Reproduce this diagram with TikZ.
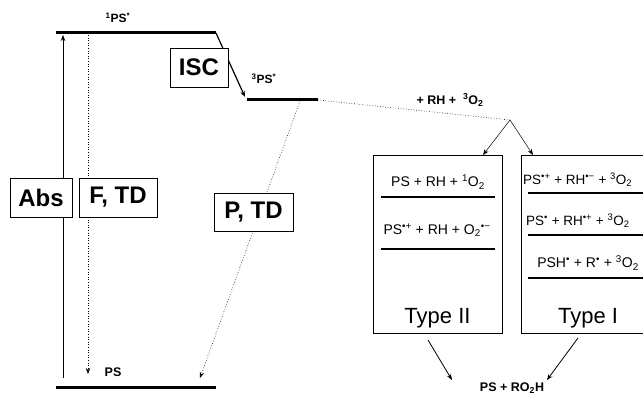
\documentclass[tikz,border=0pt]{standalone}
\usepackage{fontspec}
\setmainfont{Liberation Sans}
\usetikzlibrary{arrows.meta}
\begin{document}
\begin{tikzpicture}[x=1pt,y=-1pt,
  every node/.style={inner sep=0pt},
  level/.style={line width=3pt},
  sublevel/.style={line width=2.4pt},
  bigbox/.style={draw, line width=0.7pt, fill=white, font=\bfseries\fontsize{24}{24}\selectfont},
  typebox/.style={draw, line width=0.7pt, minimum width=129pt, minimum height=178pt},
  lbl/.style={font=\bfseries\fontsize{12}{12}\selectfont},
  plbl/.style={font=\bfseries\fontsize{12.5}{12.5}\selectfont},
  rlbl/.style={font=\fontsize{14}{14}\selectfont},
  tip/.style={-{Stealth[length=6pt,width=4.5pt]}},
  dots/.style={dotted, line width=0.6pt}
]
\clip (0,0) rectangle (643,411);
% energy levels
\coordinate (s1a) at (56,33);  \coordinate (s1b) at (216,33);
\coordinate (t1a) at (247,100); \coordinate (t1b) at (318,100);
\coordinate (s0a) at (56,388);  \coordinate (s0b) at (216,388);
\draw[level] (s1a) -- (s1b);
\draw[level] (t1a) -- (t1b);
\draw[level] (s0a) -- (s0b);
% transitions
\coordinate (absb) at (63,378); \coordinate (abst) at (63,35);
\draw[tip, line width=0.7pt] (absb) -- (abst);
\coordinate (ft) at (88,35); \coordinate (fb) at (88,374);
\draw[dots, tip] (ft) -- (fb);
\coordinate (iscend) at (245,97);
\draw[tip, line width=1.2pt] (s1b) -- (iscend);
\coordinate (pt) at (300,101); \coordinate (pb) at (200,378);
\draw[dots, tip] (pt) -- (pb);
\coordinate (split) at (510,120);
\draw[dots] (t1b) -- (split);
\coordinate (t2top) at (483,155); \coordinate (t1top) at (533,155);
\draw[tip, line width=0.5pt] (split) -- (t2top);
\draw[tip, line width=0.5pt] (split) -- (t1top);
% boxes
\node[bigbox, minimum width=58pt, minimum height=39pt] (isc) at (199,67.5) {ISC};
\node[bigbox, minimum width=62pt, minimum height=39pt] (abs) at (41,197.5) {Abs};
\node[bigbox, minimum width=78pt, minimum height=39pt] (ftd) at (118,197.5) {F, TD};
\node[bigbox, minimum width=79pt, minimum height=38pt] (ptd) at (253.5,212) {P, TD};
% level labels
\node[lbl] (s1lbl) at (118,18) {\textsuperscript{1}PS\textsuperscript{*}};
\node[lbl] (t1lbl) at (264,79) {\textsuperscript{3}PS\textsuperscript{*}};
\node[plbl] (s0lbl) at (113,372) {PS};
\node[plbl] (rh) at (450,100) {+ RH +\ \ \textsuperscript{3}O\textsubscript{2}};
% type boxes
\node[typebox] (typeII) at (437.5,244) {};
\node[typebox] (typeI) at (585.5,244) {};
\node[font=\fontsize{22}{22}\selectfont] (t2lbl) at (437.5,318) {Type II};
\node[font=\fontsize{22}{22}\selectfont] (t1lbl2) at (588,318) {Type I};
% type II content
\node[rlbl] (a1) at (438,182) {PS + RH + \textsuperscript{1}O\textsubscript{2}};
\draw[sublevel] (381,197) -- (495,197);
\node[rlbl] (a2) at (437,230) {PS\textsuperscript{•+} + RH + O\textsubscript{2}\textsuperscript{•−}};
\draw[sublevel] (381,249) -- (495,249);
% type I content
\node[font=\fontsize{13.5}{13.5}\selectfont, anchor=west] (b1) at (523,180) {PS\textsuperscript{•+} + RH\textsuperscript{•−} + \textsuperscript{3}O\textsubscript{2}};
\draw[sublevel] (528,193) -- (650,193);
\node[font=\fontsize{13.5}{13.5}\selectfont, anchor=west] (b2) at (526,221) {PS\textsuperscript{•}\ + RH\textsuperscript{•+} + \textsuperscript{3}O\textsubscript{2}};
\draw[sublevel] (528,235) -- (650,235);
\node[rlbl] (b3) at (588,263) {PSH\textsuperscript{•} + R\textsuperscript{•} + \textsuperscript{3}O\textsubscript{2}};
\draw[sublevel] (528,278) -- (650,278);
% product
\node[plbl] (prod) at (512,388) {PS + RO\textsubscript{2}H};
\coordinate (a2s) at (428,340); \coordinate (a2e) at (452,380);
\coordinate (a1s) at (578,338); \coordinate (a1e) at (547,380);
\draw[tip, line width=0.8pt] (a2s) -- (a2e);
\draw[tip, line width=0.8pt] (a1s) -- (a1e);
\end{tikzpicture}
\end{document}
